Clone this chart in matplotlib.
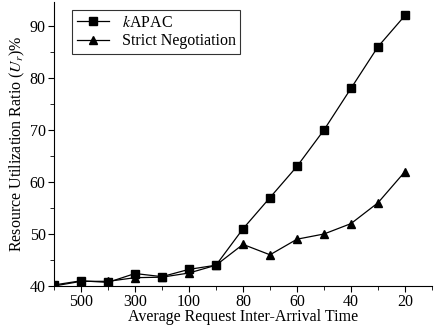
import numpy as np
import matplotlib
matplotlib.use("Agg")
import matplotlib.pyplot as plt

plt.rcParams['font.family'] = ['Liberation Serif', 'DejaVu Serif']
plt.rcParams['mathtext.fontset'] = 'stix'

# request inter-arrival times (one point per minor tick)
arrival = [600, 500, 400, 300, 200, 100, 90, 80, 70, 60, 50, 40, 30, 20]
tick_labels = ['500', '300', '100', '80', '60', '40', '20']

kapac = [40.2, 41.0, 40.7, 42.4, 41.8, 43.2, 44.0, 51.0, 57.0, 63.0, 70.0, 78.0, 86.0, 92.0]
strict = [40.0, 40.9, 40.9, 41.6, 41.7, 42.5, 44.0, 48.0, 46.0, 49.0, 50.0, 52.0, 56.0, 62.0]

fig = plt.figure(figsize=(4.34, 3.28), dpi=100)
ax = fig.add_axes([0.1244, 0.128, 0.871, 0.866])

x = np.arange(len(arrival))
ax.plot(x, kapac, 'k-', marker='s', ms=5.5, lw=0.9, label='$k$APAC')
ax.plot(x, strict, 'k-', marker='^', ms=6, lw=0.9, label='Strict Negotiation')

ax.set_xlim(0, 14)
ax.set_ylim(40, 94.6)
ax.set_xticks(x[1::2])
ax.set_xticklabels(tick_labels)
ax.set_xticks(np.arange(0, 15, 2), minor=True)
ax.set_yticks([40, 50, 60, 70, 80, 90])
ax.set_yticks([45, 55, 65, 75, 85], minor=True)

ax.spines['top'].set_visible(False)
ax.spines['right'].set_visible(False)
ax.tick_params(which='both', direction='out', labelsize=11.5, pad=1.5)
ax.tick_params(which='major', length=4.5)
ax.tick_params(which='minor', length=3)

ax.set_xlabel('Average Request Inter-Arrival Time', fontsize=11.5, labelpad=-1)
ax.set_ylabel('Resource Utilization Ratio ($U_r$)%', fontsize=11.5, labelpad=2)

leg = ax.legend(loc='upper left', bbox_to_anchor=(0.048, 0.972), borderaxespad=0,
                fontsize=11.5, frameon=True, fancybox=False, edgecolor='black',
                handlelength=2.0, borderpad=0.3, labelspacing=0.15)
leg.get_frame().set_linewidth(0.8)

fig.savefig('out.png', dpi=100)
